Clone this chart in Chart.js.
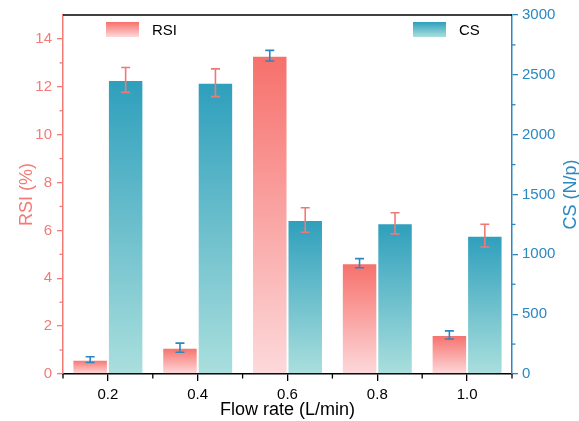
<!DOCTYPE html>
<html>
<head>
<meta charset="utf-8">
<script src="https://cdn.jsdelivr.net/npm/chart.js@4.4.1/dist/chart.umd.min.js"></script>
<style>
  html, body { margin: 0; padding: 0; background: #ffffff; }
  #wrap { width: 579px; height: 421px; position: relative; }
</style>
</head>
<body>
<div id="wrap"><canvas id="c" width="579" height="421"></canvas></div>
<script>
// ---- data ----
const flowRates = ['0.2', '0.4', '0.6', '0.8', '1.0'];
const rsiValues = [0.6, 1.1, 13.3, 4.63, 1.63];
const rsiErrors = [0.12, 0.19, 0.22, 0.19, 0.17];
const csValues = [2457, 2434, 1287, 1259, 1156];
const csErrors = [104, 116, 102, 88, 95];
const rsiTicks = [0, 2, 4, 6, 8, 10, 12, 14];
const csTicks = [0, 500, 1000, 1500, 2000, 2500, 3000];

// ---- styles ----
const FONT = '"Liberation Sans", Arial, sans-serif';
const RED_AXIS = '#F47A76';
const BLUE_AXIS = '#2A88C2';
const RSI_TOP = '#F6706B', RSI_BOT = '#FDD9DB';
const CS_TOP = '#2E9FBC', CS_BOT = '#AADFDD';
const RSI_ERR = '#2C86BF';
const CS_ERR = '#EE7A77';

function barGradient(top, bot) {
  return function (ctx) {
    const chart = ctx.chart;
    if (!chart.chartArea || ctx.type !== 'data') return top;
    const ys = chart.scales[ctx.dataset.yAxisID];
    const yTop = ys.getPixelForValue(ctx.raw);
    const yBot = ys.getPixelForValue(0);
    if (!isFinite(yTop) || !isFinite(yBot) || yTop === yBot) return top;
    const g = chart.ctx.createLinearGradient(0, yTop, 0, yBot);
    g.addColorStop(0, top);
    g.addColorStop(1, bot);
    return g;
  };
}

const decorPlugin = {
  id: 'decor',
  afterDatasetsDraw(chart) {
    const c = chart.ctx;
    const errSets = [
      { idx: 0, vals: rsiValues, errs: rsiErrors, axis: 'y', color: RSI_ERR },
      { idx: 1, vals: csValues, errs: csErrors, axis: 'y1', color: CS_ERR }
    ];
    c.save();
    errSets.forEach(s => {
      const meta = chart.getDatasetMeta(s.idx);
      const ys = chart.scales[s.axis];
      c.strokeStyle = s.color;
      c.lineWidth = 1.6;
      meta.data.forEach((el, i) => {
        const x = el.x;
        const y1 = ys.getPixelForValue(s.vals[i] + s.errs[i]);
        const y2 = ys.getPixelForValue(s.vals[i] - s.errs[i]);
        c.beginPath();
        c.moveTo(x, y1); c.lineTo(x, y2);
        c.moveTo(x - 4.5, y1); c.lineTo(x + 4.5, y1);
        c.moveTo(x - 4.5, y2); c.lineTo(x + 4.5, y2);
        c.stroke();
      });
    });
    c.restore();
  },
  afterDraw(chart) {
    const c = chart.ctx;
    const area = chart.chartArea;
    const ys = chart.scales.y, ys1 = chart.scales.y1, xs = chart.scales.x;
    c.save();
    // top border
    c.strokeStyle = '#000000';
    c.lineWidth = 1.5;
    c.beginPath();
    c.moveTo(area.left, area.top); c.lineTo(area.right, area.top);
    c.stroke();
    // minor ticks left
    c.strokeStyle = RED_AXIS;
    c.lineWidth = 1.3;
    for (let v = 1; v < 15; v += 2) {
      const y = ys.getPixelForValue(v);
      c.beginPath(); c.moveTo(area.left - 3.5, y); c.lineTo(area.left, y); c.stroke();
    }
    // minor ticks right
    c.strokeStyle = BLUE_AXIS;
    for (let v = 250; v < 3000; v += 500) {
      const y = ys1.getPixelForValue(v);
      c.beginPath(); c.moveTo(area.right, y); c.lineTo(area.right + 3.5, y); c.stroke();
    }
    // minor ticks bottom (category boundaries)
    c.strokeStyle = '#000000';
    const n = flowRates.length;
    for (let i = 0; i <= n; i++) {
      let x;
      if (i === 0) x = xs.getPixelForValue(0) - (xs.getPixelForValue(1) - xs.getPixelForValue(0)) / 2;
      else if (i === n) x = xs.getPixelForValue(n - 1) + (xs.getPixelForValue(n - 1) - xs.getPixelForValue(n - 2)) / 2;
      else x = (xs.getPixelForValue(i - 1) + xs.getPixelForValue(i)) / 2;
      c.beginPath(); c.moveTo(x, area.bottom); c.lineTo(x, area.bottom + 4.5); c.stroke();
    }
    // axis titles
    c.font = '18px ' + FONT;
    c.textAlign = 'center';
    c.textBaseline = 'alphabetic';
    c.fillStyle = '#000000';
    c.fillText('Flow rate (L/min)', (area.left + area.right) / 2, 415);
    const midY = (area.top + area.bottom) / 2;
    c.save();
    c.translate(32, midY);
    c.rotate(-Math.PI / 2);
    c.fillStyle = RED_AXIS;
    c.fillText('RSI (%)', 0, 0);
    c.restore();
    c.save();
    c.translate(576, midY);
    c.rotate(-Math.PI / 2);
    c.fillStyle = BLUE_AXIS;
    c.fillText('CS (N/p)', 0, 0);
    c.restore();
    // legend
    const legends = [
      { x: area.left + 43, label: 'RSI', top: RSI_TOP, bot: RSI_BOT },
      { x: area.left + 350, label: 'CS', top: CS_TOP, bot: CS_BOT }
    ];
    legends.forEach(l => {
      const sy = area.top + 7, sh = 15, sw = 33;
      const g = c.createLinearGradient(0, sy, 0, sy + sh);
      g.addColorStop(0, l.top);
      g.addColorStop(1, l.bot);
      c.fillStyle = g;
      c.fillRect(l.x, sy, sw, sh);
      c.font = '15px ' + FONT;
      c.textAlign = 'left';
      c.fillStyle = '#000000';
      c.fillText(l.label, l.x + sw + 13, sy + 13);
    });
    c.restore();
  }
};

new Chart(document.getElementById('c'), {
  type: 'bar',
  data: {
    labels: flowRates,
    datasets: [
      {
        label: 'RSI',
        data: rsiValues,
        yAxisID: 'y',
        backgroundColor: barGradient(RSI_TOP, RSI_BOT),
        borderColor: 'rgba(255,255,255,0.55)',
        borderWidth: 1,
        borderSkipped: 'bottom',
        categoryPercentage: 0.79,
        barPercentage: 1.0
      },
      {
        label: 'CS',
        data: csValues,
        yAxisID: 'y1',
        backgroundColor: barGradient(CS_TOP, CS_BOT),
        borderColor: 'rgba(255,255,255,0.55)',
        borderWidth: 1,
        borderSkipped: 'bottom',
        categoryPercentage: 0.79,
        barPercentage: 1.0
      }
    ]
  },
  options: {
    responsive: false,
    animation: false,
    devicePixelRatio: 1,
    layout: { padding: { top: 15, left: 0, right: 0, bottom: 0 } },
    plugins: { legend: { display: false }, tooltip: { enabled: false } },
    scales: {
      x: {
        offset: true,
        grid: { display: true, drawOnChartArea: false, offset: false, tickLength: 7, color: '#000000', lineWidth: 1.3 },
        border: { display: true, color: '#000000', width: 1.5 },
        ticks: { color: '#000000', font: { family: FONT, size: 15 }, padding: 5, maxRotation: 0 },
        afterFit(s) { s.height = 47; }
      },
      y: {
        position: 'left',
        min: 0, max: 15,
        afterBuildTicks(s) { s.ticks = rsiTicks.map(v => ({ value: v })); },
        ticks: { color: RED_AXIS, font: { family: FONT, size: 15 }, padding: 5, callback: v => String(v) },
        grid: { display: true, drawOnChartArea: false, tickLength: 6, color: RED_AXIS, lineWidth: 1.3 },
        border: { display: true, color: RED_AXIS, width: 1.5 },
        afterFit(s) { s.width = 63; }
      },
      y1: {
        position: 'right',
        min: 0, max: 3000,
        afterBuildTicks(s) { s.ticks = csTicks.map(v => ({ value: v })); },
        ticks: { color: BLUE_AXIS, font: { family: FONT, size: 15 }, padding: 4, callback: v => String(v) },
        grid: { display: true, drawOnChartArea: false, tickLength: 6, color: BLUE_AXIS, lineWidth: 1.3 },
        border: { display: true, color: BLUE_AXIS, width: 1.5 },
        afterFit(s) { s.width = 67; }
      }
    }
  },
  plugins: [decorPlugin]
});
</script>
</body>
</html>
